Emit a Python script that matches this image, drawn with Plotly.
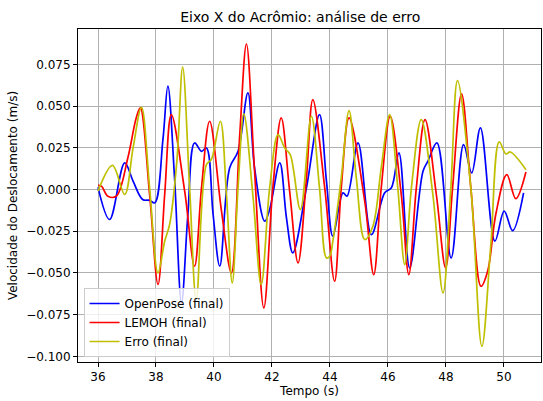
import plotly.graph_objects as go

# OpenPose (final) velocity samples
t_openpose = [36.00, 36.40, 36.92, 37.21, 37.54, 37.78, 37.96, 38.24, 38.41, 38.64,
              38.88, 39.10, 39.33, 39.57, 39.74, 39.97, 40.20, 40.54, 40.83, 41.17,
              41.40, 41.75, 41.92, 42.27, 42.50, 42.72, 43.19, 43.64, 43.88, 44.10,
              44.45, 44.59, 44.97, 45.43, 45.89, 46.12, 46.38, 46.75, 47.21, 47.38,
              47.69, 48.18, 48.61, 48.89, 49.19, 49.69, 50.01, 50.30, 50.68]
v_openpose = [0.0013, -0.018, 0.0159, 0.005, -0.006, -0.0065, -0.008, 0.030, 0.0619, 0.007,
              -0.068, -0.015, 0.0279, 0.0229, 0.0249, -0.015, -0.0459, 0.0129, 0.0229, 0.0579,
              0.013, -0.019, -0.012, 0.0159, -0.017, -0.038, 0.001, 0.0449, 0.005, -0.028,
              -0.002, -0.004, 0.0279, -0.027, -0.002, 0.001, 0.0219, -0.047, 0.011, 0.017,
              0.0279, -0.041, 0.0269, 0.0099, 0.0369, -0.031, -0.013, -0.0247, -0.002]

# LEMOH (final) velocity samples
t_lemoh = [36.00, 36.12, 36.34, 36.63, 37.03, 37.32, 37.46, 37.78, 38.07, 38.30,
           38.53, 38.99, 39.33, 39.57, 39.85, 40.26, 40.60, 40.89, 41.12, 41.40,
           41.72, 42.03, 42.32, 42.61, 42.90, 43.19, 43.41, 43.82, 44.16, 44.39,
           44.66, 45.20, 45.51, 45.77, 46.08, 46.46, 46.72, 46.98, 47.28, 47.67,
           47.99, 48.23, 48.54, 48.86, 49.21, 49.44, 49.72, 50.10, 50.41, 50.76]
v_lemoh = [0.0025, 0.002, -0.004, -0.004, 0.019, 0.043, 0.0489, -0.003, -0.057, -0.003,
           0.0449, -0.001, -0.046, 0.001, 0.0409, -0.013, -0.050, 0.033, 0.0872, 0.011,
           -0.071, 0.001, 0.0429, -0.001, -0.044, 0.007, 0.0539, 0.001, -0.055, 0.001,
           0.0429, -0.007, -0.051, 0.001, 0.0439, -0.003, -0.051, 0.001, 0.0419, -0.003,
           -0.047, 0.001, 0.0573, 0.001, -0.058, -0.049, -0.015, 0.0089, -0.0055, 0.0105]

# Erro (final) samples
t_erro = [36.00, 36.50, 36.92, 37.21, 37.50, 37.78, 38.07, 38.30, 38.47, 38.72,
          38.92, 39.16, 39.39, 39.74, 39.91, 40.22, 40.43, 40.63, 40.83, 41.03,
          41.34, 41.63, 41.92, 42.21, 42.44, 42.63, 42.98, 43.36, 43.64, 43.88,
          43.99, 44.10, 44.39, 44.66, 44.91, 45.20, 45.48, 45.77, 46.06, 46.34,
          46.58, 46.81, 47.15, 47.55, 47.90, 48.17, 48.40, 48.86, 49.24, 49.55,
          49.84, 50.07, 50.22, 50.76]
v_erro = [-0.001, 0.0145, -0.003, 0.025, 0.0493, 0.001, -0.050, -0.031, -0.021, 0.017,
          0.0733, 0.001, -0.066, 0.0149, 0.018, 0.0409, -0.003, -0.056, 0.001, 0.0453,
          -0.003, -0.057, 0.001, 0.0329, 0.0249, 0.0209, -0.012, 0.0439, 0.001, -0.041,
          -0.040, -0.031, 0.007, 0.0473, 0.007, -0.030, -0.022, 0.013, 0.0449, 0.001,
          -0.045, 0.001, 0.0419, -0.003, -0.062, 0.001, 0.0652, 0.001, -0.094, -0.033,
          0.0285, 0.0213, 0.0225, 0.0119]

x_ticks = [36, 38, 40, 42, 44, 46, 48, 50]
y_ticks = [0.075, 0.050, 0.025, 0.000, -0.025, -0.050, -0.075, -0.100]
y_tick_text = ["0.075", "0.050", "0.025", "0.000", "\u22120.025", "\u22120.050", "\u22120.075", "\u22120.100"]

FONT = "DejaVu Sans"

fig = go.Figure()
series = [
    (t_openpose, v_openpose, "OpenPose (final)", "#0000ff"),
    (t_lemoh, v_lemoh, "LEMOH (final)", "#ff0000"),
    (t_erro, v_erro, "Erro (final)", "#bfbf00"),
]
for t, v, name, color in series:
    fig.add_trace(go.Scatter(
        x=t, y=v, name=name, mode="lines",
        line=dict(color=color, width=1.7, shape="spline", smoothing=1.0),
    ))

axis_common = dict(
    showline=True, linecolor="black", linewidth=1, mirror=True,
    ticks="outside", ticklen=4, tickcolor="black", tickwidth=1,
    showgrid=True, gridcolor="#b0b0b0", gridwidth=0.8,
    zeroline=False, tickfont=dict(family=FONT, size=12, color="black"),
)

fig.update_xaxes(
    range=[35.31, 51.28], tickvals=x_ticks, ticktext=[str(v) for v in x_ticks],
    title=dict(text="Tempo (s)", font=dict(family=FONT, size=12, color="black"), standoff=2),
    **axis_common,
)
fig.update_yaxes(
    range=[-0.1034, 0.0962], tickvals=y_ticks, ticktext=y_tick_text,
    title=dict(text="Velocidade do Deslocamento (m/s)", font=dict(family=FONT, size=12, color="black"), standoff=5),
    **axis_common,
)

fig.update_layout(
    width=543, height=401,
    margin=dict(l=78, r=2, t=29, b=39),
    paper_bgcolor="white", plot_bgcolor="white",
    font=dict(family=FONT, size=12, color="black"),
    title=dict(text="Eixo X do Acrômio: análise de erro", x=0.553, xanchor="center",
               y=0.957, yanchor="middle", font=dict(family=FONT, size=14, color="black")),
    legend=dict(
        x=0.012, y=0.015, xanchor="left", yanchor="bottom",
        bgcolor="rgba(255,255,255,0.8)", bordercolor="#cccccc", borderwidth=1,
        font=dict(family=FONT, size=12, color="black"),
        itemwidth=30, tracegroupgap=0,
    ),
    showlegend=True,
)

fig.write_html("out.html")
